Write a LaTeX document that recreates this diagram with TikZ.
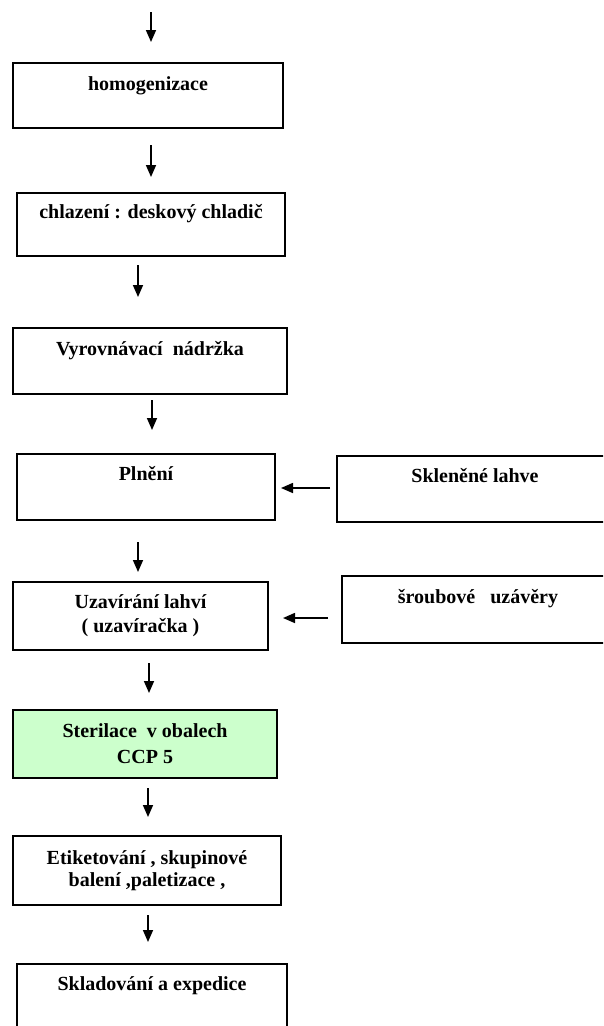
\documentclass[tikz,border=0pt]{standalone}
\usepackage{fontspec}
\setmainfont{Liberation Serif}
\usetikzlibrary{arrows.meta}

\definecolor{ccpgreen}{RGB}{204,255,204}

\tikzset{
	procbox/.style={draw, line width=1.6pt, align=center, outer sep=0pt, inner sep=0pt,
		font=\fontsize{20}{24}\selectfont\bfseries},
	flowarrow/.style={line width=1.6pt, -{Triangle[length=12pt,width=10pt]}}
}

\begin{document}
\begin{tikzpicture}[x=1pt, y=-1pt]
	\useasboundingbox (0,0) rectangle (603,1026);
	\clip (0,0) rectangle (603,1026);

	% Main line
	\begin{scope}
		\node[procbox, minimum width=270pt, minimum height=65pt] (homogenizace) at (148,95.5) {homogenizace\\[-7pt] \strut};
		\node[procbox, minimum width=268pt, minimum height=63pt] (chlazeni) at (151,224.5) {chlazení : deskový chladič\\[-6pt] \strut};
		\node[procbox, minimum width=274pt, minimum height=66pt] (nadrzka) at (150,361) {Vyrovnávací\ \ nádržka\\[-6pt] \strut};
		\node[procbox, minimum width=258pt, minimum height=66pt] (plneni) at (146,487) {Plnění\\[-5pt] \strut};
		\node[procbox, minimum width=255pt, minimum height=68pt] (uzavirani) at (140.5,616) {Uzavírání lahví\\( uzavíračka )};
		\node[procbox, fill=ccpgreen, minimum width=264pt, minimum height=68pt] (sterilace) at (145,744) {Sterilace\ \ v obalech\\[2pt]CCP 5};
		\node[procbox, minimum width=268pt, minimum height=69pt] (etiketovani) at (147,870.5) {Etiketování , skupinové\\[-2pt]balení ,paletizace ,};
		\node[procbox, minimum width=270pt, minimum height=66pt] (skladovani) at (152,997) {Skladování a expedice\\[-5pt] \strut};
	\end{scope}

	% Inputs from the right
	\begin{scope}
		\node[procbox, minimum width=276pt, minimum height=66pt] (lahve) at (475,489) {Skleněné lahve\\[-5pt] \strut};
		\node[procbox, minimum width=272pt, minimum height=67pt] (uzavery) at (478,609.5) {šroubové\ \ \ uzávěry\\[-5pt] \strut};
	\end{scope}

	% Arrows down
	\coordinate (vstup) at (151,12);
	\draw[flowarrow, shorten >=21pt] (vstup) -- (vstup |- homogenizace.north);
	\draw[flowarrow, shorten <=17pt, shorten >=16pt] ([xshift=3pt]homogenizace.south) -- ([xshift=3pt]homogenizace.south |- chlazeni.north);
	\draw[flowarrow, shorten <=9pt, shorten >=31pt] ([xshift=-13pt]chlazeni.south) -- ([xshift=-13pt]chlazeni.south |- nadrzka.north);
	\draw[flowarrow, shorten <=6pt, shorten >=24pt] ([xshift=2pt]nadrzka.south) -- ([xshift=2pt]nadrzka.south |- plneni.north);
	\draw[flowarrow, shorten <=22pt, shorten >=10pt] ([xshift=-8pt]plneni.south) -- ([xshift=-8pt]plneni.south |- uzavirani.north);
	\draw[flowarrow, shorten <=13pt, shorten >=17pt] ([xshift=8.5pt]uzavirani.south) -- ([xshift=8.5pt]uzavirani.south |- sterilace.north);
	\draw[flowarrow, shorten <=10pt, shorten >=19pt] ([xshift=3pt]sterilace.south) -- ([xshift=3pt]sterilace.south |- etiketovani.north);
	\draw[flowarrow, shorten <=10pt, shorten >=22pt] ([xshift=1pt]etiketovani.south) -- ([xshift=1pt]etiketovani.south |- skladovani.north);

	% Arrows from the right
	\draw[flowarrow, shorten <=7pt, shorten >=6pt] ([yshift=-1pt]plneni.east -| lahve.west) -- ([yshift=-1pt]plneni.east);
	\draw[flowarrow, shorten <=14pt, shorten >=15pt] ([yshift=-2pt]uzavirani.east -| uzavery.west) -- ([yshift=-2pt]uzavirani.east);
\end{tikzpicture}
\end{document}
